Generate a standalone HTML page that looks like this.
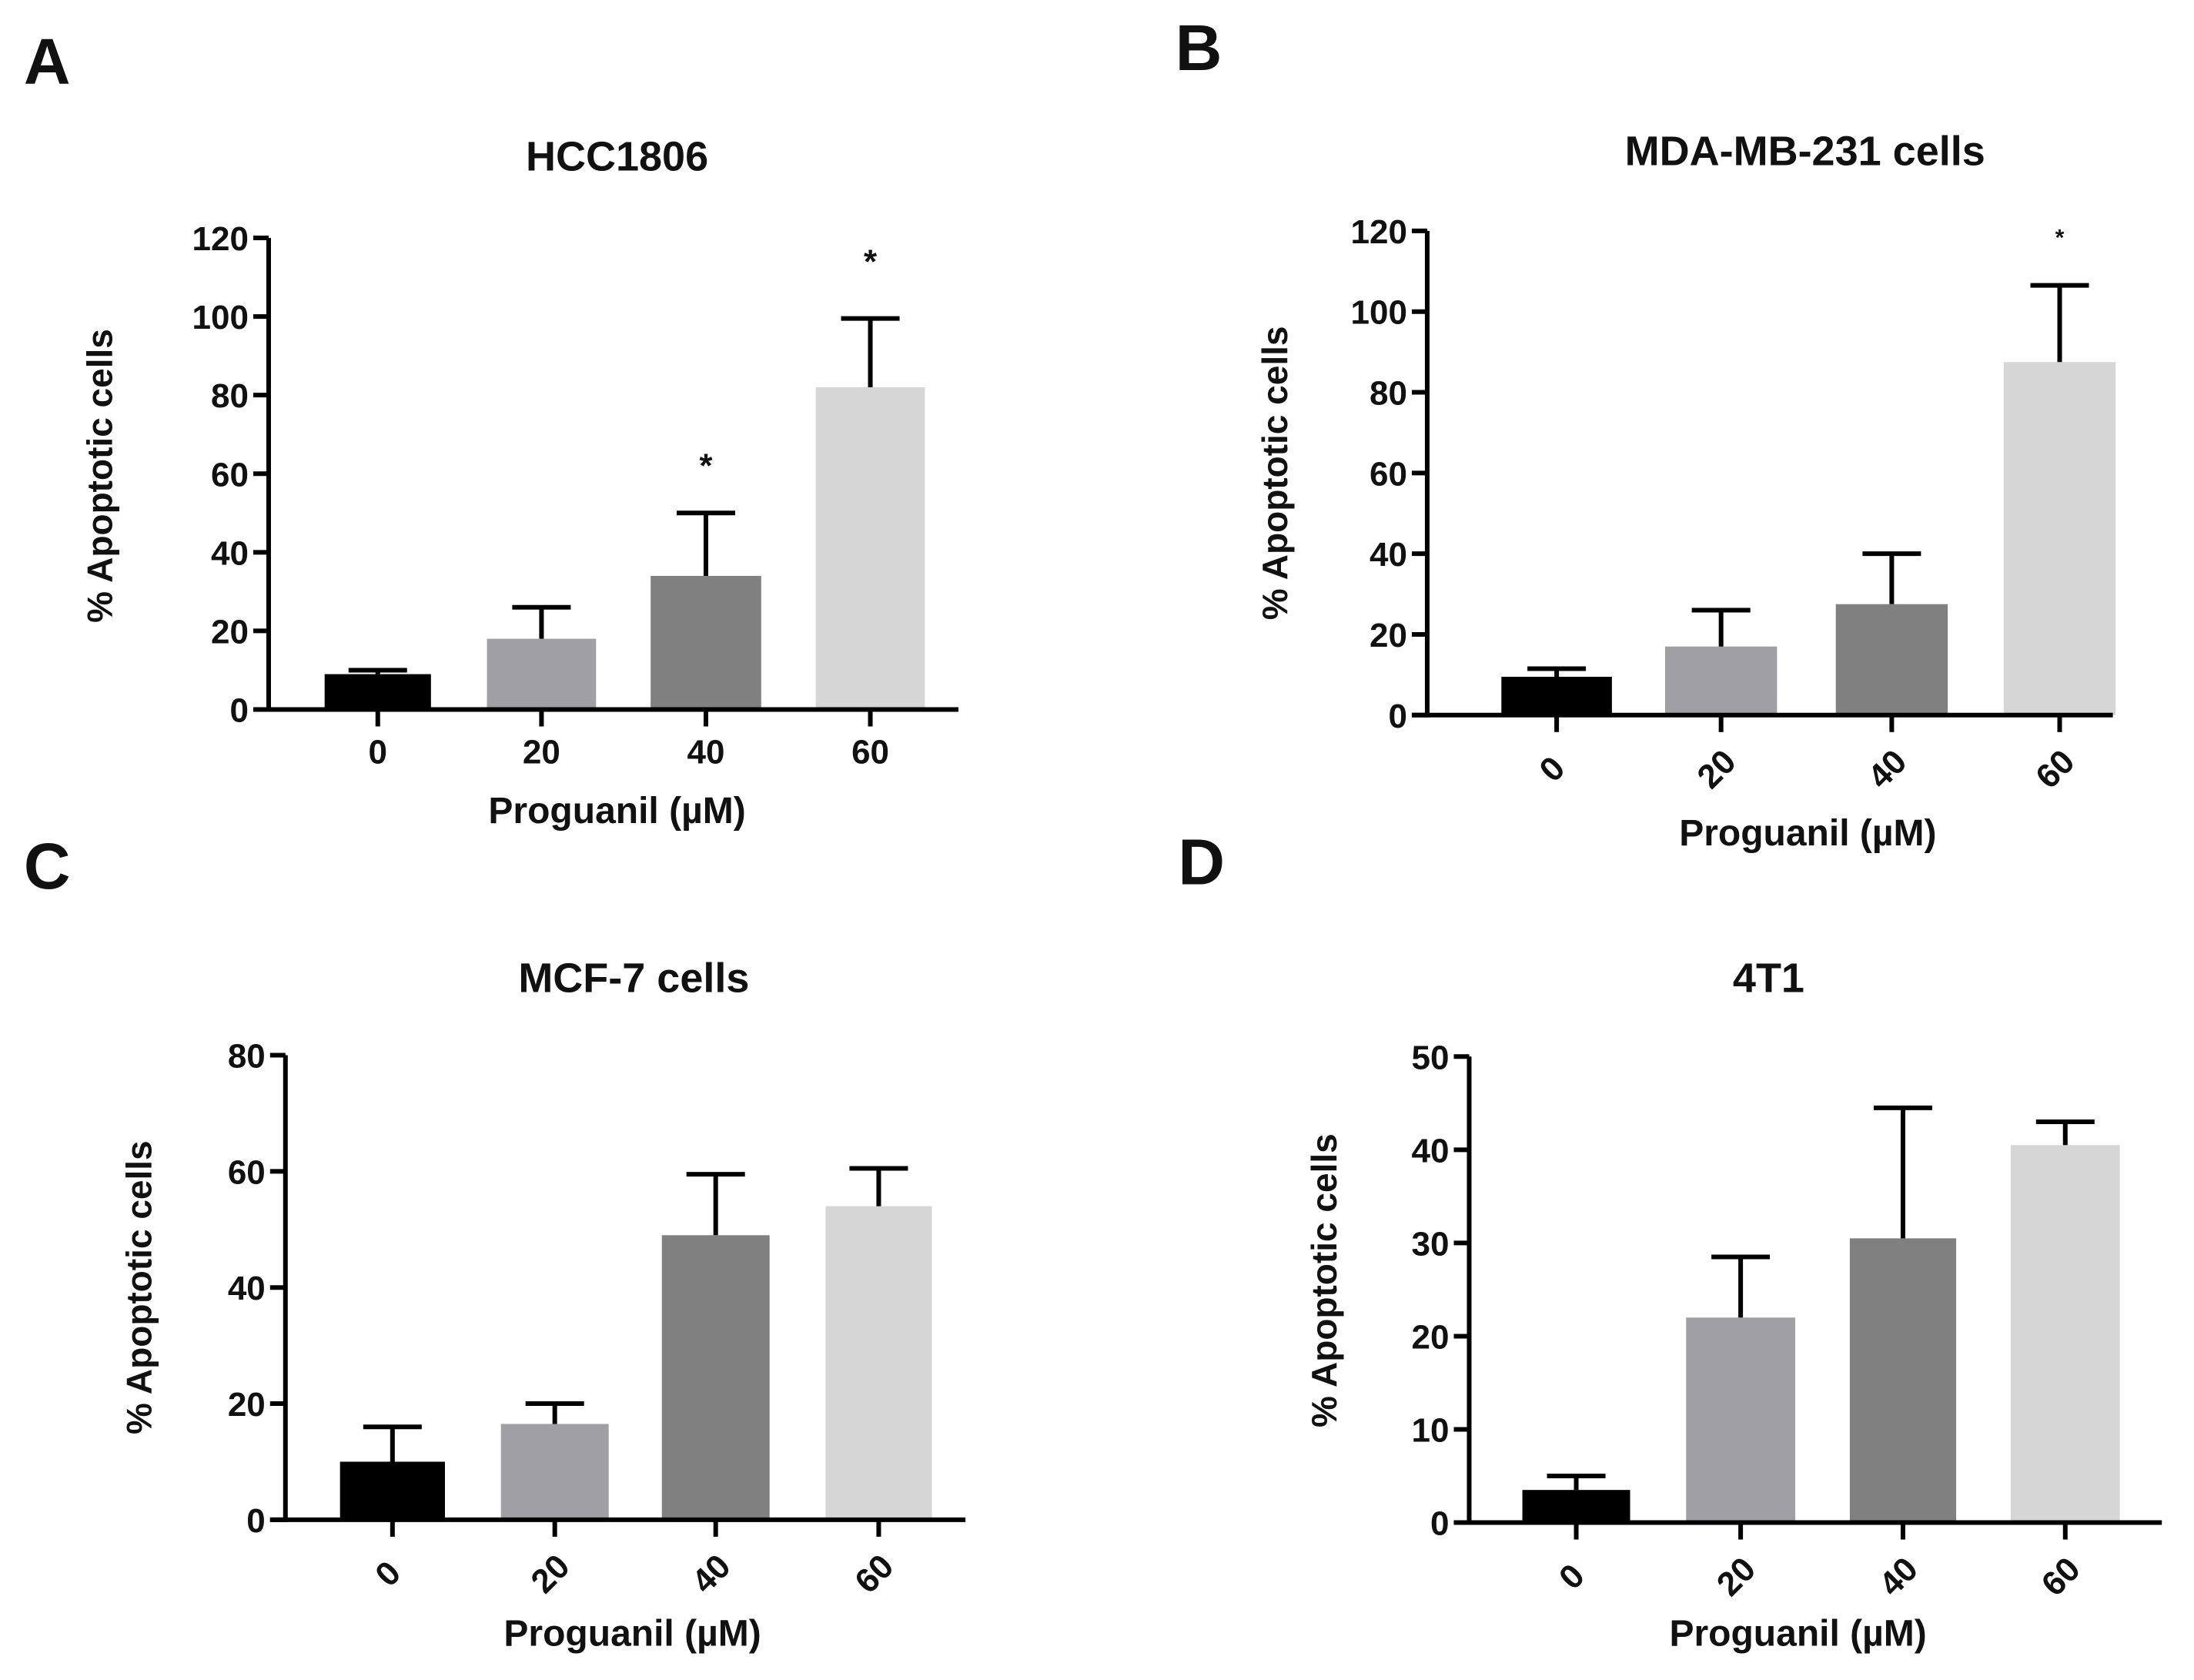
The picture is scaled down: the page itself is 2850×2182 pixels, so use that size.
<!DOCTYPE html>
<html><head><meta charset="utf-8"><style>
html,body{margin:0;padding:0;background:#fff}
svg{display:block}
text{font-family:"Liberation Sans",Arial,sans-serif;font-weight:bold;fill:#111}
</style></head><body>
<svg id="fig" width="2850" height="2182" viewBox="0 0 2850 2182" xmlns="http://www.w3.org/2000/svg"></svg>
<script>
// ---- data ----
const categories = ["0", "20", "40", "60"];
const valuesA = [9, 18, 34, 82];
const errorsA = [10, 26, 50, 99.5];
const valuesB = [9.5, 17, 27.5, 87.5];
const errorsB = [11.5, 26, 40, 106.5];
const valuesC = [10, 16.5, 49, 54];
const errorsC = [16, 20, 59.5, 60.5];
const valuesD = [3.5, 22, 30.5, 40.5];
const errorsD = [5, 28.5, 44.5, 43];
const ticksA = [0, 20, 40, 60, 80, 100, 120];
const ticksB = [0, 20, 40, 60, 80, 100, 120];
const ticksC = [0, 20, 40, 60, 80];
const ticksD = [0, 10, 20, 30, 40, 50];
const starsA = [null, null, 63, 115];
const starsB = [null, null, null, 119];
const colors = ["#000000", "#a0a0a4", "#808080", "#d6d6d6"];

const S = 2850 / 1568;
const NS = "http://www.w3.org/2000/svg";
const svg = document.getElementById("fig");
function mk(tag, attrs, parent, txt) {
  const e = document.createElementNS(NS, tag);
  for (const k in attrs) e.setAttribute(k, attrs[k]);
  if (txt !== undefined) e.textContent = txt;
  (parent || svg).appendChild(e);
  return e;
}

const panels = [
  {id:"a", letter:"A", lx:17, ly:60, title:"HCC1806", tx:441, ty:122, ax:192, y0:507, yTop:170, max:120, xEnd:685,
   bars:[[232,308],[348,426],[465,544],[583,661]], vals:valuesA, errs:errorsA, ticks:ticksA, stars:starsA, starSize:44,
   rot:false, xlx:441, xly:588, ylx:80, yly:340},
  {id:"b", letter:"B", lx:840, ly:50, title:"MDA-MB-231 cells", tx:1290, ty:118, ax:1020, y0:511, yTop:165, max:120, xEnd:1510,
   bars:[[1073,1152],[1190,1270],[1312,1392],[1432,1512]], vals:valuesB, errs:errorsB, ticks:ticksB, stars:starsB, starSize:30,
   rot:true, xlx:1292, xly:604, ylx:920, yly:338},
  {id:"c", letter:"C", lx:17, ly:635, title:"MCF-7 cells", tx:453, ty:709, ax:204, y0:1086, yTop:754, max:80, xEnd:690,
   bars:[[243,318],[358,435],[473,550],[590,666]], vals:valuesC, errs:errorsC, ticks:ticksC, stars:[null,null,null,null], starSize:40,
   rot:true, xlx:452, xly:1176, ylx:108, yly:920},
  {id:"d", letter:"D", lx:842, ly:632, title:"4T1", tx:1264, ty:709, ax:1050, y0:1088, yTop:755, max:50, xEnd:1545,
   bars:[[1088,1165],[1205,1283],[1322,1398],[1437,1515]], vals:valuesD, errs:errorsD, ticks:ticksD, stars:[null,null,null,null], starSize:40,
   rot:true, xlx:1285, xly:1176, ylx:955, yly:915}
];

panels.forEach(p => {
  const g = mk("g", {});
  
  
  const yScale = v => (p.y0 - (p.y0 - p.yTop) * v / p.max) * S;
  const yBase = p.y0 * S;
  const axX = p.ax * S;

  const L = mk("text", {x:p.lx*S, y:p.ly*S, "font-size":84}, g, p.letter);
  
  

  const T = mk("text", {x:p.tx*S, y:p.ty*S, "font-size":54, "text-anchor":"middle"}, g, p.title);
  
  

  p.vals.forEach((v, i) => {
    const x1 = p.bars[i][0]*S, x2 = p.bars[i][1]*S, cx = (x1+x2)/2;
    const r = mk("rect", {x:x1, y:yScale(v), width:x2-x1, height:yBase-yScale(v), fill:colors[i]}, g);
    
    
    const ye = yScale(p.errs[i]);
    const eb = mk("path", {d:`M${cx} ${yScale(v)} V${ye} M${cx-38} ${ye} H${cx+38}`, stroke:"#000", "stroke-width":6, fill:"none"}, g);
    
    
    if (p.stars[i] != null) {
      const st = mk("text", {x:cx, y:yScale(p.stars[i]) + p.starSize*0.45, "font-size":p.starSize, "text-anchor":"middle"}, g, "*");
      
      
    }
    const tk = mk("line", {x1:cx, y1:yBase, x2:cx, y2:yBase+22, stroke:"#000", "stroke-width":6}, g);
    
    
    let tl;
    if (p.rot) {
      const lx = cx - 6, ly = yBase + 70;
      tl = mk("text", {x:lx, y:ly+15, "font-size":44, "text-anchor":"middle", transform:`rotate(-45 ${lx} ${ly})`}, g, categories[i]);
    } else {
      tl = mk("text", {x:cx, y:yBase+70, "font-size":44, "text-anchor":"middle"}, g, categories[i]);
    }
    
    
  });

  const ya = mk("line", {x1:axX, y1:p.yTop*S, x2:axX, y2:yBase+3, stroke:"#000", "stroke-width":6}, g);
  
  
  const xa = mk("line", {x1:axX-20, y1:yBase, x2:p.xEnd*S, y2:yBase, stroke:"#000", "stroke-width":6}, g);
  
  
  p.ticks.forEach(t => {
    const y = yScale(t);
    const tk = mk("line", {x1:axX-20, y1:y, x2:axX, y2:y, stroke:"#000", "stroke-width":6}, g);
    
    
    const tl = mk("text", {x:axX-26, y:y+16, "font-size":44, "text-anchor":"end"}, g, String(t));
    
    
  });

  const xl = mk("text", {x:p.xlx*S, y:p.xly*S, "font-size":48, "text-anchor":"middle"}, g, "Proguanil (µM)");
  
  
  const ylx = p.ylx*S, yly = p.yly*S;
  const yl = mk("text", {x:ylx, y:yly, "font-size":46, "text-anchor":"middle", transform:`rotate(-90 ${ylx} ${yly})`}, g, "% Apoptotic cells");
  
  
});
</script>
</body></html>
